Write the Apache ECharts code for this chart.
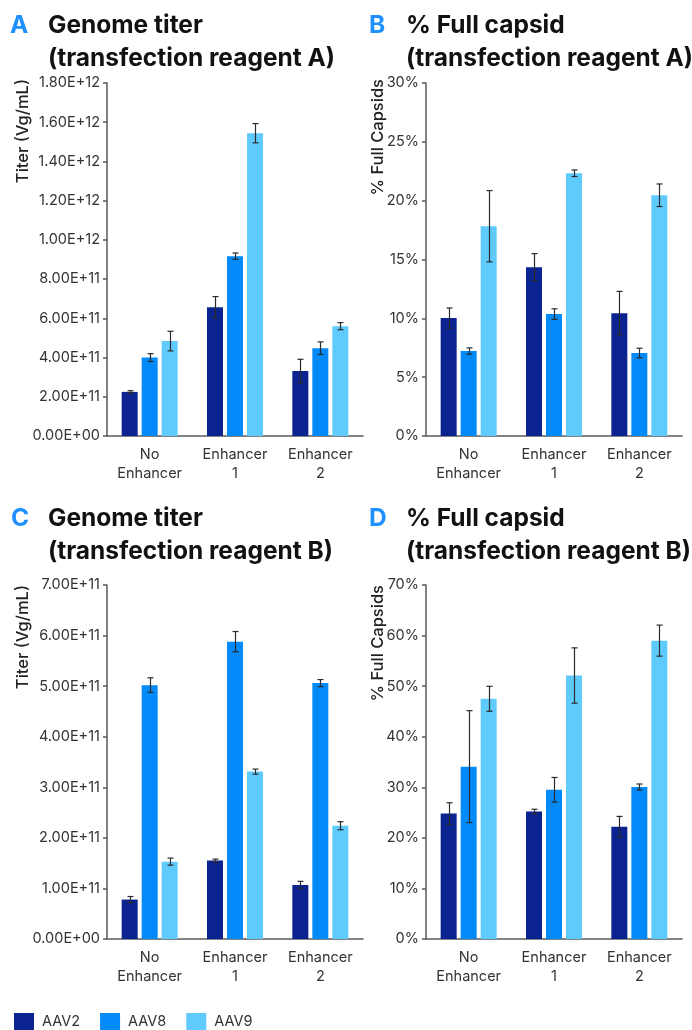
<!DOCTYPE html>
<html>
<head>
<meta charset="utf-8">
<script src="https://cdn.jsdelivr.net/npm/echarts@6/dist/echarts.min.js"></script>
<style>
html,body{margin:0;padding:0;background:#fff;}
#c{width:692px;height:1030px;}
</style>
</head>
<body>
<div id="c"></div>
<script>
// ---------------- DATA ----------------
const categories = ['No\nEnhancer', 'Enhancer\n1', 'Enhancer\n2'];
const seriesNames = ['AAV2', 'AAV8', 'AAV9'];

// Panel A: Genome titer (transfection reagent A), Vg/mL
const titerA_AAV2 = [2.25e11, 6.57e11, 3.31e11];
const titerA_AAV8 = [4.00e11, 9.17e11, 4.48e11];
const titerA_AAV9 = [4.84e11, 1.544e12, 5.60e11];
const titerA_AAV2_err = [0.06e11, 0.54e11, 0.60e11];
const titerA_AAV8_err = [0.20e11, 0.16e11, 0.32e11];
const titerA_AAV9_err = [0.50e11, 0.49e11, 0.18e11];

// Panel B: % Full capsid (transfection reagent A)
const fullB_AAV2 = [10.02, 14.35, 10.44];
const fullB_AAV8 = [7.22, 10.36, 7.05];
const fullB_AAV9 = [17.83, 22.33, 20.46];
const fullB_AAV2_err = [0.86, 1.15, 1.85];
const fullB_AAV8_err = [0.27, 0.45, 0.41];
const fullB_AAV9_err = [3.03, 0.28, 0.96];

// Panel C: Genome titer (transfection reagent B), Vg/mL
const titerC_AAV2 = [0.78e11, 1.55e11, 1.07e11];
const titerC_AAV8 = [5.02e11, 5.88e11, 5.06e11];
const titerC_AAV9 = [1.53e11, 3.31e11, 2.24e11];
const titerC_AAV2_err = [0.06e11, 0.03e11, 0.07e11];
const titerC_AAV8_err = [0.145e11, 0.20e11, 0.07e11];
const titerC_AAV9_err = [0.07e11, 0.05e11, 0.08e11];

// Panel D: % Full capsid (transfection reagent B)
const fullD_AAV2 = [24.8, 25.2, 22.2];
const fullD_AAV8 = [34.08, 29.5, 30.06];
const fullD_AAV9 = [47.5, 52.1, 59.0];
const fullD_AAV2_err = [2.14, 0.46, 2.04];
const fullD_AAV8_err = [11.07, 2.44, 0.59];
const fullD_AAV9_err = [2.47, 5.47, 3.07];

// Axis ranges
const axisA = {max: 1.8e12, interval: 2e11};
const axisB = {max: 30, interval: 5};
const axisC = {max: 7e11, interval: 1e11};
const axisD = {max: 70, interval: 10};

// Titles
const panelTitles = [
  {letter: 'A', l1: 'Genome titer', l2: '(transfection reagent A)'},
  {letter: 'B', l1: '% Full capsid', l2: '(transfection reagent A)'},
  {letter: 'C', l1: 'Genome titer', l2: '(transfection reagent B)'},
  {letter: 'D', l1: '% Full capsid', l2: '(transfection reagent B)'}
];
const yNames = ['Titer (Vg/mL)', '% Full Capsids', 'Titer (Vg/mL)', '% Full Capsids'];

// ---------------- STYLE ----------------
const colors = ['#0A2391', '#038AF9', '#5FCBFC'];
const FONT = 'Inter, "Open Sans", sans-serif';
const axisColor = '#5a5a5a';
const textColor = '#333333';
const BAR_W = 16, BAR_STEP = 20;

const grids = [
  {left: 107, top: 83, width: 256, height: 353},
  {left: 426, top: 83, width: 256, height: 353},
  {left: 107, top: 585, width: 256, height: 354},
  {left: 426, top: 585, width: 256, height: 354}
];

function sciFmt(v) {
  if (v === 0) return '0.00E+00';
  const e = Math.floor(Math.log10(v) + 1e-9);
  const m = v / Math.pow(10, e);
  return m.toFixed(2) + 'E+' + (e < 10 ? '0' + e : e);
}
function pctFmt(v) { return Math.round(v) + '%'; }

const panels = [
  {vals: [titerA_AAV2, titerA_AAV8, titerA_AAV9], errs: [titerA_AAV2_err, titerA_AAV8_err, titerA_AAV9_err], axis: axisA, fmt: sciFmt},
  {vals: [fullB_AAV2, fullB_AAV8, fullB_AAV9], errs: [fullB_AAV2_err, fullB_AAV8_err, fullB_AAV9_err], axis: axisB, fmt: pctFmt},
  {vals: [titerC_AAV2, titerC_AAV8, titerC_AAV9], errs: [titerC_AAV2_err, titerC_AAV8_err, titerC_AAV9_err], axis: axisC, fmt: sciFmt},
  {vals: [fullD_AAV2, fullD_AAV8, fullD_AAV9], errs: [fullD_AAV2_err, fullD_AAV8_err, fullD_AAV9_err], axis: axisD, fmt: pctFmt}
];

const xAxes = [], yAxes = [], series = [], graphics = [];

panels.forEach((p, pi) => {
  xAxes.push({
    type: 'category', gridIndex: pi, data: categories,
    axisLine: {lineStyle: {color: axisColor, width: 1.5}},
    axisTick: {show: false},
    axisLabel: {color: textColor, fontFamily: FONT, fontSize: 14.5, lineHeight: 19, margin: 9, interval: 0}
  });
  yAxes.push({
    type: 'value', gridIndex: pi, min: 0, max: p.axis.max, interval: p.axis.interval,
    axisLine: {show: true, lineStyle: {color: axisColor, width: 1.5}},
    axisTick: {show: true, length: 4, lineStyle: {color: axisColor, width: 1.5}},
    splitLine: {show: false},
    axisLabel: {color: textColor, fontFamily: FONT, fontSize: 14.5, margin: 7, formatter: p.fmt}
  });
  p.vals.forEach((arr, si) => {
    series.push({
      type: 'bar', name: seriesNames[si], xAxisIndex: pi, yAxisIndex: pi,
      data: arr, barWidth: BAR_W, barGap: '25%',
      itemStyle: {color: colors[si]}, emphasis: {disabled: true}, silent: true, z: 2
    });
  });
  p.vals.forEach((arr, si) => {
    const errArr = p.errs[si];
    series.push({
      type: 'custom', xAxisIndex: pi, yAxisIndex: pi, z: 5, silent: true,
      data: arr.map((v, ci) => [ci, v - errArr[ci], v + errArr[ci]]),
      renderItem: (params, api) => {
        const lo = api.coord([api.value(0), api.value(1)]);
        const hi = api.coord([api.value(0), api.value(2)]);
        const x = Math.round(lo[0] + (si - 1) * BAR_STEP) + 0.5;
        const cw = 3;
        const st = {stroke: '#2b2b2b', lineWidth: 1.2};
        return {type: 'group', children: [
          {type: 'line', shape: {x1: x, y1: lo[1], x2: x, y2: hi[1]}, style: st},
          {type: 'line', shape: {x1: x - cw, y1: lo[1], x2: x + cw, y2: lo[1]}, style: st},
          {type: 'line', shape: {x1: x - cw, y1: hi[1], x2: x + cw, y2: hi[1]}, style: st}
        ]};
      }
    });
  });
});

// Titles and axis names
const titlePos = [
  {lx: 10, tx: 48, y: 26},
  {lx: 369, tx: 406, y: 26},
  {lx: 11, tx: 48, y: 519},
  {lx: 369, tx: 406, y: 519}
];
panelTitles.forEach((t, i) => {
  const pos = titlePos[i];
  const f = 'bold 24.5px ' + FONT;
  graphics.push({type: 'text', x: pos.lx, y: pos.y,
    style: {text: t.letter, fill: '#1E90FF', font: f, verticalAlign: 'middle'}});
  graphics.push({type: 'text', x: pos.tx, y: pos.y,
    style: {text: t.l1, fill: '#111', font: f, verticalAlign: 'middle'}});
  graphics.push({type: 'text', x: pos.tx, y: pos.y + 33,
    style: {text: t.l2, fill: '#111', font: f, verticalAlign: 'middle'}});
});
const yNamePos = [
  {x: 23, y: 79}, {x: 378, y: 79}, {x: 23, y: 585}, {x: 378, y: 585}
];
yNames.forEach((n, i) => {
  graphics.push({type: 'text', x: yNamePos[i].x, y: yNamePos[i].y, rotation: Math.PI / 2,
    style: {text: n, fill: '#222', font: '500 16.5px ' + FONT, align: 'right', verticalAlign: 'middle'}});
});

const chart = echarts.init(document.getElementById('c'), null, {renderer: 'canvas'});
chart.setOption({
  animation: false,
  color: colors,
  grid: grids,
  xAxis: xAxes,
  yAxis: yAxes,
  series: series,
  legend: {
    data: seriesNames, left: 14, top: 1013, padding: 0, itemWidth: 20, itemHeight: 17, itemGap: 20,
    textStyle: {color: textColor, fontFamily: FONT, fontSize: 14.5, padding: [0, 0, 0, 3]}, selectedMode: false,
    icon: 'rect'
  },
  graphic: graphics
});
</script>
</body>
</html>
